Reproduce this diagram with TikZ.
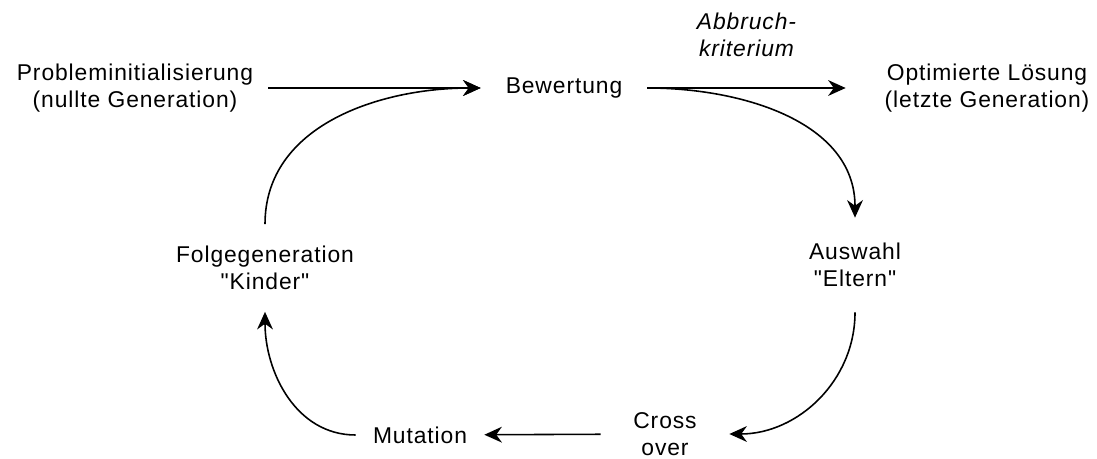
\documentclass[tikz,border=0pt]{standalone}
\usepackage{fontspec}
\setmainfont[LetterSpace=4,Ligatures=TeXOff]{Liberation Sans}
\usetikzlibrary{arrows.meta}

\begin{document}
\begin{tikzpicture}[x=0.02cm,y=0.02cm,>={Stealth[length=10pt,width=9pt]},
  stage/.style={align=center,inner sep=0pt,font=\fontsize{13}{15.7}\selectfont},
  flow/.style={->,line width=0.9pt}]
  \useasboundingbox (0,0) rectangle (1097,-459);
  \node[stage,minimum width=5.32cm] (init) at (135,-88) {Probleminitialisierung\\ (nullte Generation)};
  \node[stage,minimum width=3.32cm] (bew) at (564,-88) {Bewertung};
  \node[stage,minimum width=5.64cm] (opt) at (987,-88) {Optimierte Lösung\\ (letzte Generation)};
  \node[stage,minimum height=1.88cm] (ausw) at (855,-265) {Auswahl\\ "Eltern"};
  \node[stage,minimum width=2.56cm] (cross) at (665,-434) {Cross\\ over};
  \node[stage,minimum width=2.56cm] (mut) at (420,-435) {Mutation};
  \node[stage,minimum height=1.74cm] (folge) at (265,-268) {Folgegeneration\\ "Kinder"};
  \draw[flow] (init) -- (bew);
  \draw[flow] (bew) -- node[stage,above=0.6cm,font=\fontsize{13}{15.7}\selectfont\itshape] (stop) {Abbruch-\\ kriterium} (opt);
  \draw[flow] (bew.east) to[out=0,in=90] (ausw.north);
  \draw[flow] (ausw.south) to[out=-90,in=0] (cross.east);
  \draw[flow] (cross) -- (mut);
  \draw[flow] (mut.west) to[out=180,in=-90] (folge.south);
  \draw[flow] (folge.north) to[out=90,in=180] (bew.west);
\end{tikzpicture}
\end{document}
